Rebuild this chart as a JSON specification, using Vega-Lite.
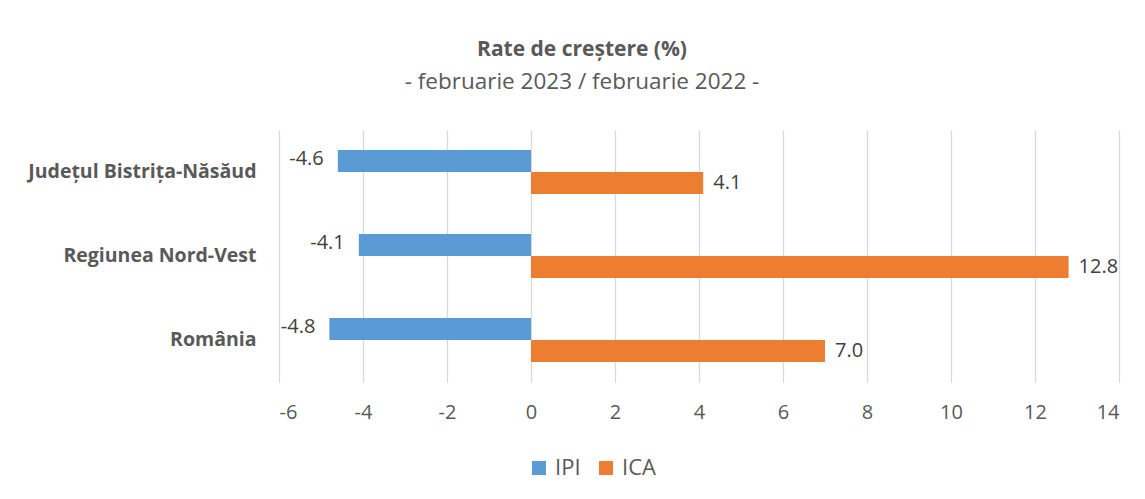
{
  "$schema": "https://vega.github.io/schema/vega-lite/v6.json",
  "width": 840,
  "height": 252,
  "autosize": "none",
  "padding": {"left": 279, "top": 130, "right": 26, "bottom": 117},
  "background": "white",
  "config": {
    "view": {"stroke": null},
    "locale": {
      "number": {"decimal": ".", "thousands": ",", "grouping": [3], "currency": ["", ""], "minus": "-"}
    }
  },
  "title": {
    "text": "Rate de creștere (%)",
    "subtitle": "- februarie 2023 / februarie 2022 -",
    "anchor": "middle",
    "frame": "group",
    "dx": -117,
    "font": "Open Sans",
    "fontSize": 21,
    "fontWeight": "bold",
    "color": "#595959",
    "subtitleFont": "Open Sans",
    "subtitleFontSize": 22.5,
    "subtitleColor": "#595959",
    "subtitlePadding": 11,
    "offset": 37
  },
  "data": {
    "values": [
      {"region": "Județul Bistrița-Năsăud", "series": "IPI", "value": -4.6},
      {"region": "Județul Bistrița-Năsăud", "series": "ICA", "value": 4.1},
      {"region": "Regiunea Nord-Vest", "series": "IPI", "value": -4.1},
      {"region": "Regiunea Nord-Vest", "series": "ICA", "value": 12.8},
      {"region": "România", "series": "IPI", "value": -4.8},
      {"region": "România", "series": "ICA", "value": 7.0}
    ]
  },
  "encoding": {
    "y": {
      "field": "region",
      "type": "nominal",
      "sort": ["Județul Bistrița-Năsăud", "Regiunea Nord-Vest", "România"],
      "scale": {"paddingInner": 0.476, "paddingOuter": 0.238},
      "axis": {
        "title": null,
        "domain": false,
        "ticks": false,
        "grid": false,
        "labelFont": "Open Sans",
        "labelFontSize": 19.5,
        "labelFontWeight": "bold",
        "labelColor": "#595959",
        "labelPadding": 23,
        "labelLimit": 400
      }
    },
    "x": {
      "field": "value",
      "type": "quantitative",
      "scale": {"domain": [-6, 14], "nice": false, "zero": false},
      "axis": {
        "title": null,
        "values": [-6, -4, -2, 0, 2, 4, 6, 8, 10, 12, 14],
        "format": "d",
        "domain": false,
        "ticks": false,
        "grid": true,
        "gridColor": "#D9D9D9",
        "gridWidth": 1.3,
        "labelFont": "Open Sans",
        "labelFontSize": 20,
        "labelColor": "#595959",
        "labelPadding": 20
      }
    },
    "yOffset": {
      "field": "series",
      "sort": ["IPI", "ICA"],
      "scale": {"paddingInner": 0, "paddingOuter": 0}
    }
  },
  "layer": [
    {
      "mark": {"type": "bar"},
      "encoding": {
        "color": {
          "field": "series",
          "type": "nominal",
          "sort": ["IPI", "ICA"],
          "scale": {"domain": ["IPI", "ICA"], "range": ["#5B9BD5", "#ED7D31"]},
          "legend": {
            "title": null,
            "orient": "none",
            "direction": "horizontal",
            "legendX": 249,
            "legendY": 327,
            "symbolType": "square",
            "symbolSize": 196,
            "symbolStrokeWidth": 0,
            "labelFont": "Open Sans",
            "labelFontSize": 22,
            "labelColor": "#595959",
            "columnPadding": 14,
            "labelOffset": 5
          }
        }
      }
    },
    {
      "transform": [{"filter": "datum.series === 'IPI'"}],
      "mark": {"type": "text", "align": "right", "baseline": "middle", "dx": -14, "dy": -2, "font": "Open Sans", "fontSize": 20, "color": "#404040"},
      "encoding": {"text": {"field": "value", "type": "quantitative", "format": ".1f"}}
    },
    {
      "transform": [{"filter": "datum.series === 'ICA'"}],
      "mark": {"type": "text", "align": "left", "baseline": "middle", "dx": 10, "font": "Open Sans", "fontSize": 20, "color": "#404040"},
      "encoding": {"text": {"field": "value", "type": "quantitative", "format": ".1f"}}
    }
  ]
}
